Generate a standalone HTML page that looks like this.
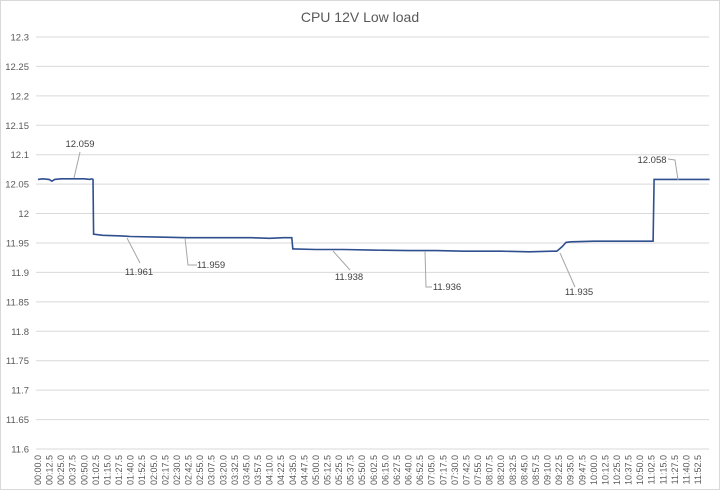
<!DOCTYPE html>
<html><head><meta charset="utf-8"><style>
body{margin:0;background:#fff;font-family:"Liberation Sans",Arial,sans-serif}
svg text{font-family:"Liberation Sans",Arial,sans-serif}
</style></head><body>
<svg id="chart" width="720" height="490" xmlns="http://www.w3.org/2000/svg">
<rect x="0.5" y="0.5" width="719" height="489" fill="#fff" stroke="#d9d9d9"/>
<text x="360" y="22" text-anchor="middle" font-size="14" fill="#595959">CPU 12V Low load</text>
<g id="grid"></g><g id="ylab"></g><g id="xlab"></g><g id="series"></g><g id="ann"></g>
</svg>
<script>
const yTicks=[11.6,11.65,11.7,11.75,11.8,11.85,11.9,11.95,12,12.05,12.1,12.15,12.2,12.25,12.3];
const yTickLabels=["11.6","11.65","11.7","11.75","11.8","11.85","11.9","11.95","12","12.05","12.1","12.15","12.2","12.25","12.3"];
const xTickCount=58;
const xStep=12.5;
const times=[0,5,12,15,18,25,40,50,56,58,59.4,60,70,90,100,130,160,200,230,250,265,274,275,276,300,330,360,400,430,460,500,530,555,560,563,566,570,575,600,630,663,664,665,700,725];
const values=[12.058,12.059,12.058,12.055,12.058,12.059,12.059,12.059,12.058,12.059,12.058,11.965,11.963,11.962,11.961,11.960,11.959,11.959,11.959,11.958,11.959,11.959,11.94,11.94,11.939,11.939,11.938,11.937,11.937,11.936,11.936,11.935,11.936,11.936,11.94,11.944,11.951,11.952,11.953,11.953,11.953,11.953,12.058,12.058,12.058];
const annValues=["12.059","11.961","11.959","11.938","11.936","11.935","12.058"];
const X0=38,XW=11.58,Y0=449,YPX=29.43,PL=36,PR=709;
function xs(t){return X0+t/xStep*XW;}
function ys(v){return Y0-(v-11.6)/0.05*YPX;}
const NS="http://www.w3.org/2000/svg";
function mk(tag,attrs,parent){const e=document.createElementNS(NS,tag);for(const k in attrs)e.setAttribute(k,attrs[k]);parent.appendChild(e);return e;}
const grid=document.getElementById('grid'),ylab=document.getElementById('ylab'),xlab=document.getElementById('xlab');
yTicks.forEach((v,i)=>{
 const l=mk('line',{x1:PL,x2:PR,y1:ys(v),y2:ys(v),stroke:'#d9d9d9','stroke-width':1},grid);
 
 
 const t=mk('text',{x:29,y:ys(v)+3.5,'text-anchor':'end','font-size':9.5,fill:'#595959'},ylab);
 t.textContent=yTickLabels[i];
 
 
});
function fmt(s){const m=Math.floor(s/60),r=s-m*60;const ss=Math.floor(r),d=Math.round((r-ss)*10);return String(m).padStart(2,'0')+':'+String(ss).padStart(2,'0')+'.'+d;}
for(let i=0;i<xTickCount;i++){
 const x=xs(i*xStep)+3;
 const t=mk('text',{x:0,y:0,transform:`translate(${x},455) rotate(-90)`,'text-anchor':'end','font-size':9,fill:'#595959'},xlab);
 t.textContent=fmt(i*xStep);
 
 
}
let d='';times.forEach((t,i)=>{d+=(i?'L':'M')+xs(t).toFixed(1)+' '+ys(values[i]).toFixed(1);});
const p=mk('path',{d:d,fill:'none',stroke:'#2f4f8f','stroke-width':1.6},document.getElementById('series'));


const ann=document.getElementById('ann');
const annPos=[[80,147,"80,152 74,178"],[139,275,"127,238 140,263"],[211,268,"185,238 188,265 197,265"],[349,280,"333,251 350,270"],[447,290,"425,251 426,287 432,287"],[579,295,"560,253 575,287"],[652,163,"668,159 675,160 678,180"]];
annValues.forEach((s,i)=>{
 const a=annPos[i];
 const pl=mk('polyline',{points:a[2],fill:'none',stroke:'#a6a6a6','stroke-width':1},ann);
 
 
 const t=mk('text',{x:a[0],y:a[1],'text-anchor':'middle','font-size':9.5,fill:'#404040'},ann);
 t.textContent=s;
 
 
});
</script>
</body></html>
